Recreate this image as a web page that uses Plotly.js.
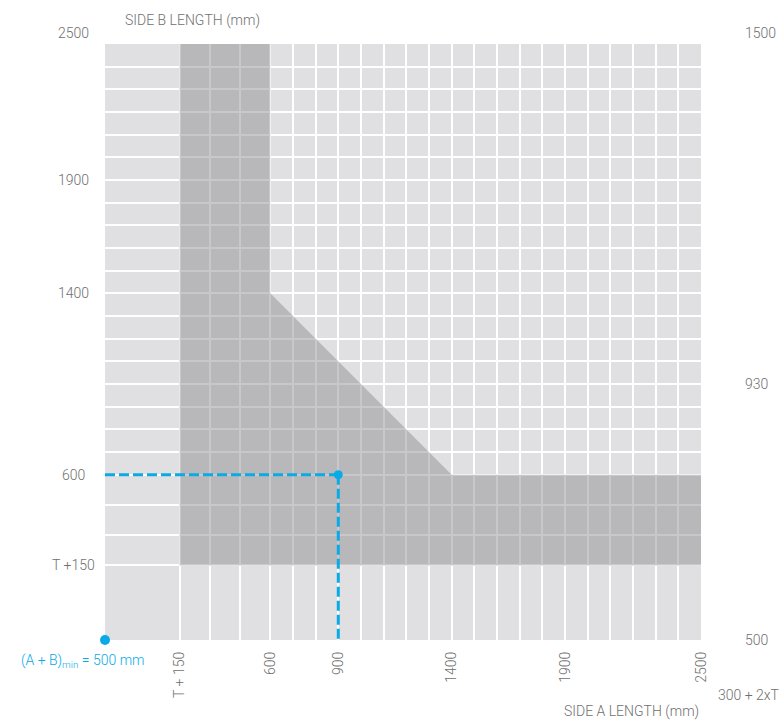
<!DOCTYPE html>
<html><head><meta charset="utf-8">
<script src="https://cdn.plot.ly/plotly-3.0.1.min.js"></script>
<style>html,body{margin:0;padding:0;background:#fff}</style>
</head><body><div id="chart" style="width:779px;height:722px"></div>
<script>
// ---- data (mm scale; "T + 150" and the 500 mm origin sit at nominal schematic positions) ----
const axisMin = -129;            // corner: (A + B)min = 500 mm
const axisMax = 2500;
const tPlus150 = 200;            // nominal position of T + 150
const gridVals = [200, 333.3, 466.7, 600, 700, 800, 900, 1000, 1100, 1200, 1300, 1400,
                  1500, 1600, 1700, 1800, 1900, 2000, 2100, 2200, 2300, 2400];
const xLabelVals = [200, 600, 900, 1400, 1900, 2500];
const xLabelText = ['T + 150', '600', '900', '1400', '1900', '2500'];
const yLabelVals = [2500, 1900, 1400, 600, 200];
const yLabelText = ['2500', '1900', '1400', '600', 'T +150'];
const rightRange = [500, 1500];
const rightVals = [1500, 930, 500];
const rightText = ['1500', '930', '500'];
const rightNote = '300 + 2xT';
const xTitle = 'SIDE A LENGTH (mm)';
const yTitle = 'SIDE B LENGTH (mm)';
const minNote = '(A + B)<sub>min</sub> = 500 mm';
// feasible region outline (side A, side B)
const regionA = [200, 2500, 2500, 1400, 600, 600, 200, 200];
const regionB = [200, 200, 600, 600, 1400, 2500, 2500, 200];
// example point
const exampleA = 900;
const exampleB = 600;

// ---- styles ----
const txtColor = '#6f6f6f';
const blue = '#0aaae8';
const fontFam = 'Roboto, "Open Sans", "DejaVu Sans", sans-serif';
const baseFont = {family: fontFam, size: 14, color: txtColor, weight: 300};

const xTickVals = gridVals.concat([axisMax]);
const xTickText = xTickVals.map(v => {
  const i = xLabelVals.indexOf(v);
  return i >= 0 ? xLabelText[i] : '';
});

const traces = [
  {x: regionA, y: regionB, type: 'scatter', mode: 'lines', fill: 'toself',
   fillcolor: 'rgba(139,139,141,0.47)', line: {width: 0}, hoverinfo: 'skip'},
  {x: [axisMin, exampleA], y: [exampleB, exampleB], type: 'scatter', mode: 'lines',
   line: {color: blue, width: 3, dash: '10px,4px'}, hoverinfo: 'skip'},
  {x: [exampleA, exampleA], y: [exampleB, axisMin], type: 'scatter', mode: 'lines',
   line: {color: blue, width: 3, dash: '10px,4px'}, hoverinfo: 'skip'},
  {x: [exampleA], y: [exampleB], type: 'scatter', mode: 'markers',
   marker: {color: blue, size: 9}, hoverinfo: 'skip'},
  {x: [axisMin], y: [axisMin], type: 'scatter', mode: 'markers', cliponaxis: false,
   marker: {color: blue, size: 10}, hoverinfo: 'skip'}
];

const annotations = [];
yLabelVals.forEach((v, i) => annotations.push({
  xref: 'paper', x: 0, xshift: -32, xanchor: 'center',
  yref: 'y', y: v, yanchor: 'middle', yshift: v === axisMax ? 11 : 0,
  text: yLabelText[i], showarrow: false, font: baseFont
}));
rightVals.forEach((v, i) => annotations.push({
  xref: 'paper', x: 1, xshift: 42, xanchor: 'left',
  yref: 'y2', y: v, yanchor: 'middle', yshift: v === rightRange[1] ? 11 : 0,
  text: rightText[i], showarrow: false, font: baseFont
}));
annotations.push({xref: 'paper', x: 1, xshift: 15, xanchor: 'left',
  yref: 'paper', y: 0, yshift: -55, yanchor: 'middle',
  text: rightNote, showarrow: false, font: baseFont});
annotations.push({xref: 'paper', x: 1, xanchor: 'right',
  yref: 'paper', y: 0, yshift: -71, yanchor: 'middle',
  text: xTitle, showarrow: false, font: baseFont});
annotations.push({xref: 'paper', x: 0, xshift: 18, xanchor: 'left',
  yref: 'paper', y: 1, yshift: 24, yanchor: 'middle',
  text: yTitle, showarrow: false, font: baseFont});
annotations.push({xref: 'paper', x: 0, xshift: -22, xanchor: 'center',
  yref: 'paper', y: 0, yshift: -21, yanchor: 'middle',
  text: minNote, showarrow: false, font: Object.assign({}, baseFont, {color: blue})});

const layout = {
  width: 779, height: 722,
  margin: {l: 105, r: 78, t: 44, b: 82},
  paper_bgcolor: '#ffffff', plot_bgcolor: '#e0e0e2',
  showlegend: false,
  font: baseFont,
  xaxis: {range: [axisMin, axisMax], tickmode: 'array', tickvals: xTickVals, ticktext: xTickText,
          tickangle: -90, ticks: '', ticklabelstandoff: 8, showgrid: true, gridcolor: '#ffffff', gridwidth: 2,
          zeroline: false, showline: false, fixedrange: true, tickfont: baseFont},
  yaxis: {range: [axisMin, axisMax], tickmode: 'array', tickvals: gridVals, showticklabels: false,
          ticks: '', showgrid: true, gridcolor: '#ffffff', gridwidth: 2,
          zeroline: false, showline: false, fixedrange: true},
  yaxis2: {range: rightRange, overlaying: 'y', side: 'right', showgrid: false, zeroline: false,
           showticklabels: false, ticks: '', fixedrange: true},
  annotations: annotations
};

Plotly.newPlot('chart', traces, layout, {staticPlot: true, displayModeBar: false});
</script></body></html>
